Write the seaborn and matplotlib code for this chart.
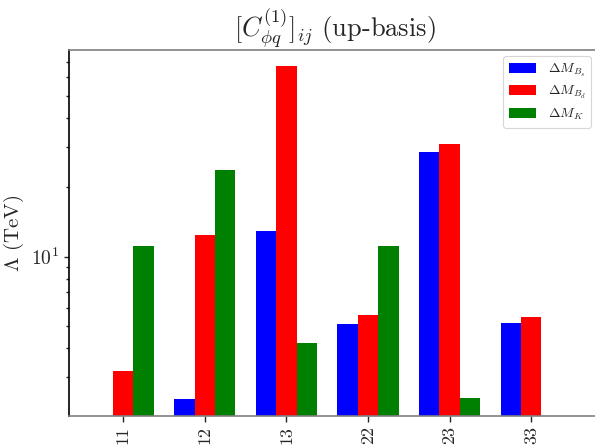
import numpy as np
import pandas as pd
import matplotlib
matplotlib.use("Agg")
import matplotlib.pyplot as plt
from matplotlib.ticker import FixedLocator, FixedFormatter, LogLocator, NullFormatter
import seaborn as sns

# Flavour indices ij and the lower bound on the scale Lambda (TeV) per observable
categories = ["11", "12", "13", "22", "23", "33"]
dm_bs = [np.nan, 2.40, 12.9, 5.09, 28.5, 5.14]
dm_bd = [3.18, 12.4, 67.3, 5.57, 30.8, 5.46]
dm_k = [11.1, 23.8, 4.21, 11.1, 2.43, np.nan]
series_labels = [r"$\Delta M_{B_s}$", r"$\Delta M_{B_d}$", r"$\Delta M_K$"]
colors = ["blue", "red", "green"]

df = pd.DataFrame({
    "ij": categories * 3,
    "obs": [series_labels[0]] * 6 + [series_labels[1]] * 6 + [series_labels[2]] * 6,
    "Lambda": dm_bs + dm_bd + dm_k,
})

sns.set_style("ticks")
plt.rcParams["font.family"] = ["cmr10", "DejaVu Serif"]
plt.rcParams["mathtext.fontset"] = "cm"
plt.rcParams["axes.formatter.use_mathtext"] = True

fig = plt.figure(figsize=(5.95, 4.46), dpi=100)
ax_w = 532
ax = fig.add_axes([69 / 595, 1 - 416 / 446, ax_w / 595, 366 / 446])
ax.set_yscale("log")

sns.barplot(data=df, x="ij", y="Lambda", hue="obs", order=categories,
            hue_order=series_labels, palette=colors, saturation=1,
            width=0.75, errorbar=None, linewidth=0, ax=ax)

ax.set_ylim(2.03, 79)
ax.set_xlim(-0.665, -0.665 + ax_w / 81.6)

ax.yaxis.set_major_locator(FixedLocator([10]))
ax.yaxis.set_major_formatter(FixedFormatter([r"$10^1$"]))
ax.yaxis.set_minor_locator(LogLocator(base=10, subs=np.arange(2, 10)))
ax.yaxis.set_minor_formatter(NullFormatter())

ax.tick_params(axis="y", which="major", length=3.5, width=1, labelsize=14, direction="out")
ax.tick_params(axis="y", which="minor", length=2.5, width=1, direction="out")
ax.tick_params(axis="x", length=4, width=1, labelsize=13, labelrotation=90, direction="out")

ax.set_xlabel("")
ax.set_ylabel(r"$\Lambda$ (TeV)", fontsize=15)
ax.set_title(r"$[C_{\phi q}^{(1)}]_{ij}$ (up-basis)", fontsize=19, pad=7)

ax.spines["left"].set_color("black")
for side in ("top", "bottom"):
    ax.spines[side].set_color("#7f7f7f")
ax.spines["right"].set_visible(False)
for side in ax.spines:
    ax.spines[side].set_linewidth(1.2)

leg = ax.legend(loc="upper right", fontsize=10, frameon=True, handlelength=2.0,
                handleheight=0.75, borderpad=0.4, labelspacing=0.4,
                handletextpad=0.8, borderaxespad=0,
                bbox_to_anchor=(522 / ax_w, 1 - 6 / 366))
leg.get_frame().set_edgecolor("#cccccc")
leg.get_frame().set_linewidth(0.8)

fig.savefig("out.png", dpi=100)
